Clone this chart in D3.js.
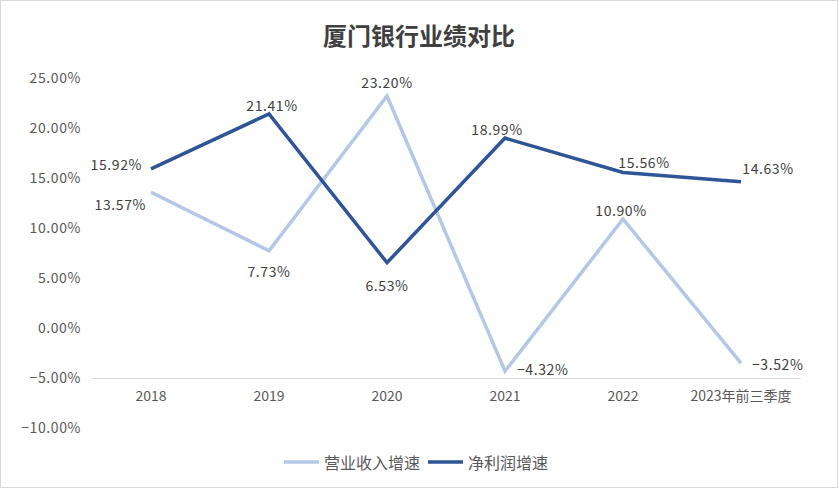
<!DOCTYPE html>
<html><head><meta charset="utf-8">
<script src="https://cdn.jsdelivr.net/npm/d3@7"></script>
<style>
html,body{margin:0;padding:0;background:#fff;}
svg{display:block;font-family:"Noto Sans CJK SC","Noto Sans",sans-serif;}
</style></head>
<body><svg id="c" width="838" height="488"></svg>
<script>
const categories = ["2018","2019","2020","2021","2022","2023年前三季度"];
const revenueGrowth = [13.57, 7.73, 23.20, -4.32, 10.90, -3.52];
const profitGrowth = [15.92, 21.41, 6.53, 18.99, 15.56, 14.63];
const yTicks = [25, 20, 15, 10, 5, 0, -5, -10];
const seriesNames = ["营业收入增速", "净利润增速"];
const colors = ["#B4C7E7", "#2F5597"];
// label placement (dx, dy, anchor) per point
const revLabelPos = [[-5,12,"end"],[0,20,"middle"],[0,-14,"middle"],[12,-2,"start"],[-2,-9,"middle"],[11,1,"start"]];
const profLabelPos = [[-9,-5,"end"],[3,-9,"middle"],[0,22,"middle"],[-8,-9,"middle"],[21,-10,"middle"],[27,-14,"middle"]];

const svg = d3.select("#c");
svg.append("rect").attr("x",0.5).attr("y",0.5).attr("width",837).attr("height",487)
  .attr("fill","#fff").attr("stroke","#d9d9d9");

const x = d3.scaleBand().domain(categories).range([92, 800]);
const y = d3.scaleLinear().domain([-10, 25]).range([428, 78]);

svg.append("text").attr("x",419).attr("y",34).attr("text-anchor","middle").attr("dominant-baseline","central")
  .attr("font-size",24).attr("font-weight","bold").attr("fill","#404040").text("厦门银行业绩对比");

// y-axis labels
const yAxis = d3.axisLeft(y).tickValues(yTicks).tickSize(0).tickPadding(0)
  .tickFormat(d => d3.format(".2f")(d) + "%");
const gy = svg.append("g").attr("transform","translate(81,0)").call(yAxis);
gy.select(".domain").remove();
gy.selectAll("text").attr("font-size",14).attr("fill","#595959")
  .attr("font-family","'Noto Sans CJK SC','Noto Sans',sans-serif").attr("letter-spacing","0.6px");

// x axis at -5%
const xAxis = d3.axisBottom(x).tickSize(0).tickPadding(13);
const gx = svg.append("g").attr("transform",`translate(0,${y(-5)})`).call(xAxis);
gx.select(".domain").attr("stroke","#d9d9d9").attr("stroke-width",1);
gx.selectAll("text").attr("font-size",14).attr("fill","#595959")
  .attr("font-family","'Noto Sans CJK SC','Noto Sans',sans-serif");

const cx = c => x(c) + x.bandwidth()/2;
const line = d3.line().x((d,i) => cx(categories[i])).y(d => y(d));

[[revenueGrowth, colors[0]],[profitGrowth, colors[1]]].forEach(([vals, col]) => {
  svg.append("path").datum(vals).attr("d", line).attr("fill","none")
    .attr("stroke", col).attr("stroke-width",3.5).attr("stroke-linejoin","miter");
});
[[revenueGrowth, revLabelPos],[profitGrowth, profLabelPos]].forEach(([vals, pos]) => {
  svg.append("g").selectAll("text").data(vals).join("text")
    .attr("x",(d,i) => cx(categories[i]) + pos[i][0])
    .attr("y",(d,i) => y(d) + pos[i][1])
    .attr("text-anchor",(d,i) => pos[i][2])
    .attr("dominant-baseline","central")
    .attr("font-size",14).attr("fill","#404040").attr("letter-spacing","0.6px")
    .text(d => d3.format(".2f")(d) + "%");
});

// legend
const leg = svg.append("g");
const legItems = [[284, 324], [428, 468]];
seriesNames.forEach((n,i) => {
  leg.append("line").attr("x1",legItems[i][0]).attr("x2",legItems[i][0]+35)
    .attr("y1",462).attr("y2",462).attr("stroke",colors[i]).attr("stroke-width",3.5);
  leg.append("text").attr("x",legItems[i][1]).attr("y",462).attr("dominant-baseline","central")
    .attr("font-size",16).attr("fill","#595959").text(n);
});
</script></body></html>
